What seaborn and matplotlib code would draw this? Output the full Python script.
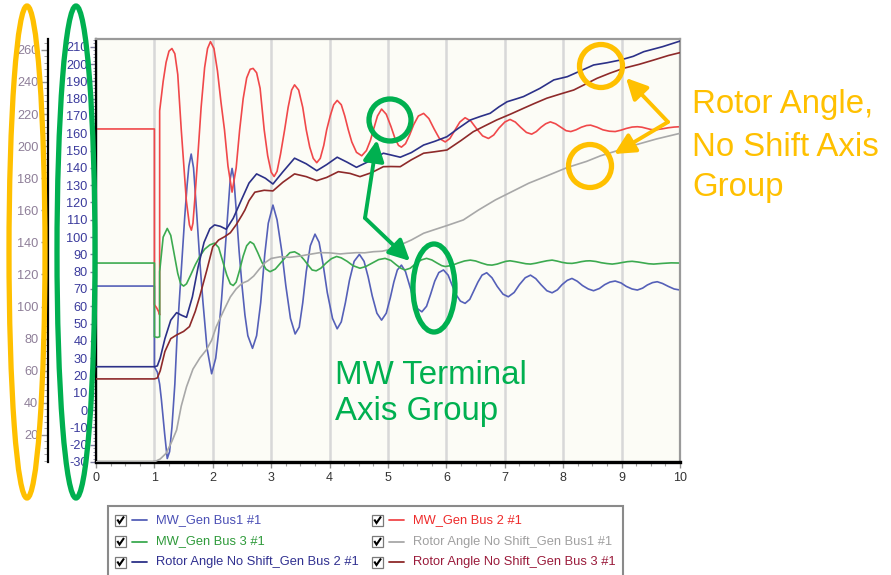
import matplotlib
matplotlib.use("Agg")
import matplotlib.pyplot as plt
import seaborn as sns
import pandas as pd
from matplotlib.patches import Ellipse, Circle, Rectangle
from matplotlib.ticker import MultipleLocator

# ---------------- data (time s, value) ----------------
mw_gen_bus1 = [(0, 71.7), (1.0, 71.7), (1.0, 25), (1.05, 22), (1.09, 15), (1.12, 6), (1.175, -13.5), (1.22, -28),
    (1.26, -24), (1.3, -10), (1.35, 15), (1.39, 44), (1.43, 65), (1.47, 85), (1.52, 112), (1.56, 130), (1.59, 141),
    (1.63, 148), (1.67, 140), (1.72, 116), (1.78, 85), (1.83, 63), (1.9, 36), (1.98, 21), (2.05, 30), (2.1, 45),
    (2.15, 64), (2.21, 92), (2.26, 116), (2.3, 134), (2.33, 139.7), (2.36, 134), (2.40, 116), (2.45, 92), (2.5, 72),
    (2.55, 55), (2.6, 43), (2.68, 35.7), (2.75, 43), (2.82, 62), (2.89, 90), (2.95, 108), (3.03, 118.5), (3.1, 110),
    (3.18, 92), (3.25, 72), (3.33, 53), (3.41, 44), (3.48, 48), (3.54, 62), (3.6, 80), (3.67, 95), (3.75, 101.7),
    (3.82, 97), (3.89, 84), (3.96, 68), (4.05, 53), (4.13, 47), (4.2, 51), (4.27, 62), (4.34, 75), (4.42, 86),
    (4.51, 90), (4.59, 86), (4.66, 77), (4.73, 66), (4.81, 56), (4.89, 52), (4.97, 56), (5.04, 65), (5.1, 74),
    (5.16, 81), (5.23, 83.8), (5.3, 80), (5.37, 72), (5.44, 64), (5.51, 58.5), (5.58, 56.8), (5.66, 60), (5.73, 67),
    (5.8, 74.5), (5.87, 79.5), (5.95, 81), (6.03, 78), (6.1, 72), (6.17, 66.5), (6.24, 63), (6.32, 61.7), (6.4, 64),
    (6.47, 69), (6.54, 74), (6.61, 78), (6.69, 79.4), (6.78, 76.5), (6.87, 71.5), (6.97, 67), (7.06, 65.5), (7.16, 68),
    (7.25, 72.5), (7.35, 76.5), (7.44, 78), (7.53, 76), (7.62, 72.5), (7.72, 69), (7.81, 67.8), (7.9, 69.5),
    (7.98, 72.5), (8.07, 75), (8.15, 76.1), (8.24, 74.5), (8.33, 72), (8.43, 70), (8.52, 69), (8.62, 70.3),
    (8.71, 72.5), (8.8, 74), (8.89, 74.6), (8.99, 73.5), (9.08, 71.5), (9.18, 70), (9.27, 69.4), (9.36, 70.5),
    (9.44, 72.3), (9.53, 73.7), (9.61, 74.2), (9.7, 73.2), (9.8, 71.5), (9.9, 70), (10.0, 69.4)]

mw_gen_bus2 = [(0, 162.5), (1.0, 162.5), (1.0, 61), (1.04, 59), (1.07, 57), (1.09, 55), (1.09, 173), (1.15, 190),
    (1.2, 201), (1.25, 207.5), (1.3, 209), (1.35, 206), (1.4, 194), (1.46, 162), (1.5, 143), (1.547, 121), (1.6, 107),
    (1.633, 104), (1.66, 108), (1.69, 121), (1.74, 145), (1.8, 175), (1.86, 198), (1.91, 209), (1.96, 213),
    (2.02, 209), (2.08, 196), (2.14, 178), (2.2, 162), (2.26, 141), (2.33, 126), (2.4, 140), (2.46, 162), (2.52, 180),
    (2.58, 192), (2.64, 197), (2.69, 197.5), (2.75, 195), (2.81, 186), (2.88, 162), (2.94, 147), (3.0, 137.5),
    (3.05, 135), (3.1, 138), (3.16, 148), (3.23, 162), (3.29, 175), (3.35, 185), (3.4, 188), (3.47, 185), (3.54, 175),
    (3.6, 162), (3.66, 152), (3.72, 145.5), (3.78, 143), (3.84, 145.5), (3.9, 153), (3.95, 162), (4.01, 170),
    (4.07, 176.5), (4.13, 179), (4.2, 176.5), (4.26, 170), (4.32, 162), (4.38, 155), (4.46, 149), (4.55, 147),
    (4.63, 150), (4.7, 156), (4.75, 162), (4.82, 170), (4.89, 174), (4.97, 171), (5.05, 164), (5.12, 157), (5.18, 153),
    (5.23, 152), (5.3, 154), (5.37, 159), (5.44, 165), (5.52, 170), (5.61, 171.5), (5.7, 168.5), (5.79, 162.5),
    (5.88, 157), (5.98, 155), (6.06, 157), (6.15, 162), (6.23, 166.5), (6.32, 169), (6.42, 167), (6.52, 162.5),
    (6.62, 158.5), (6.72, 157), (6.81, 159), (6.9, 163), (7.0, 166.5), (7.09, 168), (7.18, 166.5), (7.27, 163.5),
    (7.37, 160.5), (7.46, 159.5), (7.54, 161), (7.62, 163.5), (7.7, 165.5), (7.78, 166.6), (7.87, 165.5),
    (7.96, 163.5), (8.05, 161.5), (8.13, 161), (8.22, 162), (8.31, 163.5), (8.4, 164.5), (8.47, 164.7), (8.58, 163.5),
    (8.68, 162), (8.79, 161.2), (8.89, 161), (8.99, 161.8), (9.08, 162.8), (9.18, 163.6), (9.27, 163.8),
    (9.35, 163.5), (9.43, 162.8), (9.5, 162.2), (9.58, 162), (9.7, 162.6), (9.8, 163.2), (9.9, 163.6), (10.0, 163.8)]

mw_gen_bus3 = [(0, 85), (1.0, 85), (1.0, 42.4), (1.05, 42), (1.09, 42.4), (1.09, 80), (1.15, 100), (1.22, 105),
    (1.28, 101), (1.34, 90), (1.4, 79), (1.45, 73), (1.5, 71.7), (1.55, 73), (1.62, 78), (1.7, 84), (1.78, 89),
    (1.86, 93), (1.95, 95.5), (2.03, 96.5), (2.1, 94), (2.17, 86), (2.24, 78), (2.3, 73), (2.35, 72), (2.4, 74),
    (2.46, 81), (2.52, 89), (2.58, 95), (2.64, 97.3), (2.7, 96), (2.77, 91), (2.84, 85.5), (2.91, 81.5), (2.98, 80),
    (3.07, 81.5), (3.16, 85), (3.25, 88.5), (3.32, 91), (3.4, 91.5), (3.48, 90), (3.56, 87), (3.64, 83.5), (3.7, 81),
    (3.77, 80.5), (3.85, 82), (3.94, 85), (4.03, 87.5), (4.12, 88.8), (4.2, 88), (4.3, 86), (4.4, 83.5), (4.52, 82),
    (4.62, 83), (4.73, 85), (4.84, 87), (4.95, 87.7), (5.05, 86.5), (5.14, 84), (5.22, 82), (5.29, 81), (5.38, 82),
    (5.47, 84.5), (5.57, 86.8), (5.66, 87.7), (5.75, 86.8), (5.84, 85), (5.92, 83.5), (5.98, 83), (6.09, 83.6),
    (6.2, 85), (6.31, 86.2), (6.41, 86.7), (6.5, 86.2), (6.6, 85), (6.7, 84), (6.78, 83.8), (6.87, 84.4),
    (6.95, 85.3), (7.02, 86), (7.09, 86.3), (7.18, 85.8), (7.27, 85.2), (7.36, 84.6), (7.44, 84.4), (7.53, 84.9),
    (7.62, 85.6), (7.72, 86.3), (7.81, 86.7), (7.9, 86.1), (7.98, 85.4), (8.07, 84.9), (8.15, 84.8), (8.23, 85.2),
    (8.31, 85.8), (8.39, 86.2), (8.46, 86.3), (8.56, 85.9), (8.65, 85.2), (8.75, 84.7), (8.84, 84.4), (8.93, 84.8),
    (9.01, 85.3), (9.1, 85.8), (9.18, 86), (9.28, 85.6), (9.37, 85.1), (9.46, 84.6), (9.55, 84.4), (9.7, 84.8),
    (9.85, 85.1), (10.0, 85)]

rotor_bus1 = [(0, 3.2), (1.0, 3.2), (1.1, 5.0), (1.2, 8.5), (1.3, 16), (1.38, 23), (1.46, 38), (1.55, 50),
    (1.66, 61), (1.78, 68), (1.89, 73), (1.98, 79), (2.06, 87.5), (2.18, 97), (2.3, 106), (2.4, 111), (2.5, 114.5),
    (2.6, 116), (2.7, 119), (2.8, 123.5), (2.9, 127.5), (3.0, 130), (3.15, 131), (3.32, 130.7), (3.5, 131.5),
    (3.6, 132.2), (3.83, 133.6), (4.0, 133.5), (4.18, 132.8), (4.3, 133.2), (4.46, 133.6), (4.6, 133.5),
    (4.75, 134.2), (4.9, 134.5), (5.04, 135.7), (5.21, 138.4), (5.4, 141.5), (5.61, 145.7), (5.8, 148), (6.01, 150.5),
    (6.29, 154), (6.55, 160.2), (6.84, 166.5), (7.12, 171.6), (7.41, 176.9), (7.69, 181), (8.07, 186.7),
    (8.4, 190.5), (8.64, 194), (9.0, 198), (9.21, 200.5), (9.6, 204.5), (10.0, 208)]

rotor_bus2 = [(0, 62.5), (1.0, 62.5), (1.05, 63), (1.1, 68), (1.18, 80), (1.28, 91.5), (1.38, 96.2), (1.47, 94.5),
    (1.55, 93.3), (1.65, 106), (1.75, 124.9), (1.85, 140), (1.95, 148.5), (2.03, 150.9), (2.13, 150), (2.23, 148.2),
    (2.35, 155), (2.49, 166.5), (2.62, 177), (2.75, 182.7), (2.9, 180), (3.03, 176.4), (3.2, 184), (3.4, 192.5),
    (3.6, 189), (3.78, 184.7), (3.95, 188.5), (4.13, 193.1), (4.3, 190), (4.46, 186.8), (4.7, 191), (4.92, 195.6),
    (5.05, 194.5), (5.21, 193.1), (5.4, 196), (5.61, 200.7), (5.8, 203), (6.01, 205.9), (6.2, 211), (6.41, 216.3),
    (6.58, 218.5), (6.75, 220.5), (6.9, 224.5), (7.04, 227.7), (7.2, 229.5), (7.32, 230.9), (7.6, 236),
    (7.84, 241.3), (8.07, 243.3), (8.3, 247), (8.52, 250.6), (8.75, 252), (8.98, 253.7), (9.2, 256), (9.38, 258.9),
    (9.7, 262), (10.0, 265.5)]

rotor_bus3 = [(0, 54.9), (1.0, 54.9), (1.05, 55.5), (1.1, 60), (1.18, 72), (1.28, 80), (1.38, 82.3), (1.5, 84.5),
    (1.6, 87.5), (1.7, 97), (1.775, 106.2), (1.9, 123), (2.0, 137.3), (2.1, 141.5), (2.2, 143.5), (2.3, 146),
    (2.4, 151), (2.5, 157), (2.55, 160.2), (2.62, 166), (2.72, 171.3), (2.88, 172.5), (3.03, 172.1), (3.2, 177.5),
    (3.4, 182.7), (3.6, 181), (3.78, 178.5), (3.95, 180.5), (4.15, 184.1), (4.35, 183), (4.52, 181), (4.72, 183.5),
    (4.92, 187.2), (5.05, 187.3), (5.21, 187.2), (5.4, 191.5), (5.61, 195.6), (5.8, 196.5), (6.01, 197.6),
    (6.25, 203.5), (6.46, 209), (6.65, 212.5), (6.86, 216.3), (7.1, 220), (7.32, 223.6), (7.5, 226.5),
    (7.72, 229.9), (7.95, 232.5), (8.18, 235), (8.4, 239), (8.58, 242.3), (8.8, 245.5), (9.04, 248.6), (9.3, 251),
    (9.55, 253.7), (9.8, 256.5), (10.0, 258.3)]

labels = ["MW_Gen Bus1 #1", "MW_Gen Bus 2 #1", "MW_Gen Bus 3 #1",
          "Rotor Angle No Shift_Gen Bus1 #1", "Rotor Angle No Shift_Gen Bus 2 #1",
          "Rotor Angle No Shift_Gen Bus 3 #1"]
x_ticks = list(range(0, 11))
mw_ticks = list(range(-30, 211, 10))
rotor_ticks = list(range(20, 261, 20))

# ---------------- styling ----------------
line_colors = ["#5560b8", "#f0484a", "#3caa50", "#a8a8a8", "#2c3188", "#8e2a2a"]
text_colors = ["#4a4fb5", "#ee2a2a", "#2e9a3a", "#a0a0a0", "#303090", "#9a1a3a"]
ORANGE = "#FFC000"
GREEN = "#00B050"

sns.set_theme(style="white")
plt.rcParams['font.family'] = ['Liberation Sans', 'DejaVu Sans']
plt.rcParams['axes.unicode_minus'] = False

W, H = 891, 575
fig = plt.figure(figsize=(W / 100, H / 100), dpi=100)
fig.patch.set_facecolor('white')


def px_rect(x0, y0, x1, y1):
    return [x0 / W, 1 - y1 / H, (x1 - x0) / W, (y1 - y0) / H]


ax = fig.add_axes(px_rect(96, 39, 680, 462))
ax.set_facecolor('#fcfcf6')
ax2 = ax.twinx()

series = [mw_gen_bus1, mw_gen_bus2, mw_gen_bus3, rotor_bus1, rotor_bus2, rotor_bus3]
for i, data in enumerate(series):
    df = pd.DataFrame(data, columns=["t", "v"])
    target = ax if i < 3 else ax2
    sns.lineplot(data=df, x="t", y="v", ax=target, color=line_colors[i], lw=1.2,
                 estimator=None, sort=False, legend=False)

ax.set_xlim(0, 10)
ax.set_ylim(-30, 214.5)
ax2.set_ylim(3.1, 266.8)
for a in (ax, ax2):
    a.set_xlabel("")
    a.set_ylabel("")

# grid
ax.set_axisbelow(True)
ax.xaxis.grid(True, color='#d8d8d8', lw=1.8)
ax.yaxis.grid(False)
ax2.grid(False)

# x axis
ax.set_xticks(x_ticks)
ax.set_xticklabels([str(v) for v in x_ticks])
ax.xaxis.set_minor_locator(MultipleLocator(0.25))
ax.tick_params(axis='x', which='major', bottom=True, length=4, width=1, color='#909090',
               labelsize=9, labelcolor='#333333', pad=3)
ax.tick_params(axis='x', which='minor', bottom=True, length=3, width=0.8, color='#a0a0a0')

# MW axis
ax.set_yticks(mw_ticks)
ax.set_yticklabels([str(v) for v in mw_ticks])
ax.yaxis.set_minor_locator(MultipleLocator(2))
ax.tick_params(axis='y', which='major', left=True, right=False, length=4, width=1, color='#8080a0',
               labelsize=9.2, labelcolor='#3a3a9c', pad=2)
ax.tick_params(axis='y', which='minor', left=True, right=False, length=2.5, width=0.7, color='#9090a8')

# rotor axis
ax2.spines['left'].set_position(('outward', 48 * 0.72))
ax2.spines['left'].set_visible(True)
ax2.yaxis.set_ticks_position('left')
ax2.yaxis.set_label_position('left')
ax2.set_yticks(rotor_ticks)
ax2.set_yticklabels([str(v) for v in rotor_ticks])
ax2.yaxis.set_minor_locator(MultipleLocator(4))
ax2.tick_params(axis='y', which='major', left=True, right=False, length=5, width=1, color='#909090',
                labelsize=9.2, labelcolor='#8e7e98', pad=2)
ax2.tick_params(axis='y', which='minor', left=True, right=False, length=3, width=0.7, color='#a0a0a0')

# spines
for s in ('top', 'right'):
    ax.spines[s].set_color('#9a9a9a')
    ax.spines[s].set_linewidth(1.6)
ax.spines['left'].set_color('black')
ax.spines['left'].set_linewidth(1.6)
ax.spines['bottom'].set_color('black')
ax.spines['bottom'].set_linewidth(2.4)
ax.spines['bottom'].set_zorder(5)
for s in ('top', 'right', 'bottom'):
    ax2.spines[s].set_visible(False)
ax2.spines['left'].set_color('black')
ax2.spines['left'].set_linewidth(1.6)

# ---------------- overlay: annotations & legend (pixel coordinates) ----------------
ov = fig.add_axes([0, 0, 1, 1])
ov.set_xlim(0, W)
ov.set_ylim(H, 0)
ov.axis('off')
ov.patch.set_alpha(0)
ov.set_zorder(10)

ring = 3.8
ov.add_patch(Ellipse((27, 252), 36, 492, fill=False, ec=ORANGE, lw=ring))
ov.add_patch(Ellipse((76, 252), 38, 492, fill=False, ec=GREEN, lw=ring))
ov.add_patch(Circle((390, 120), 21, fill=False, ec=GREEN, lw=ring))
ov.add_patch(Ellipse((434, 288), 42, 88, fill=False, ec=GREEN, lw=ring))
ov.add_patch(Circle((601, 66), 21.5, fill=False, ec=ORANGE, lw=ring))
ov.add_patch(Circle((590, 166), 21.5, fill=False, ec=ORANGE, lw=ring))

arrow_kw = dict(arrowstyle='-|>,head_length=0.7,head_width=0.35', lw=2.8, shrinkA=0, shrinkB=0,
                mutation_scale=18)
for tip in [(377, 140), (410, 261)]:
    ov.annotate('', xy=tip, xytext=(365, 218), arrowprops=dict(color=GREEN, **arrow_kw))
for tip in [(626, 78), (614, 154)]:
    ov.annotate('', xy=tip, xytext=(668, 122), arrowprops=dict(color=ORANGE, **arrow_kw))

big = 23.8
ov.text(335, 384, "MW Terminal", color=GREEN, fontsize=big, ha='left', va='baseline')
ov.text(335, 420, "Axis Group", color=GREEN, fontsize=big, ha='left', va='baseline')
ov.text(692, 113, "Rotor Angle,", color=ORANGE, fontsize=big, ha='left', va='baseline')
ov.text(692, 156, "No Shift Axis", color=ORANGE, fontsize=big, ha='left', va='baseline')
ov.text(692, 196, "Group", color=ORANGE, fontsize=big, ha='left', va='baseline')

# legend box
ov.add_patch(Rectangle((108, 506), 515, 80, fc='white', ec='#8a8a8a', lw=1.5))
rows_y = [520, 541.5, 562]
cols_x = [115, 372]
for i, lab in enumerate(labels):
    r, c = divmod(i, 2)
    y = rows_y[r]
    x0 = cols_x[c]
    ov.add_patch(Rectangle((x0, y - 5.5), 11, 11, fc='white', ec='#7a7a7a', lw=0.9))
    ov.plot([x0 + 2.3, x0 + 4.5, x0 + 9], [y - 0.5, y + 3, y - 3.5], color='black', lw=1.5,
            solid_capstyle='butt', solid_joinstyle='miter')
    ov.plot([x0 + 17, x0 + 32], [y, y], color=line_colors[i], lw=1.3)
    ov.text(x0 + 41, y, lab, color=text_colors[i], fontsize=9.3, ha='left', va='center')

fig.savefig("out.png", dpi=100, facecolor='white')
